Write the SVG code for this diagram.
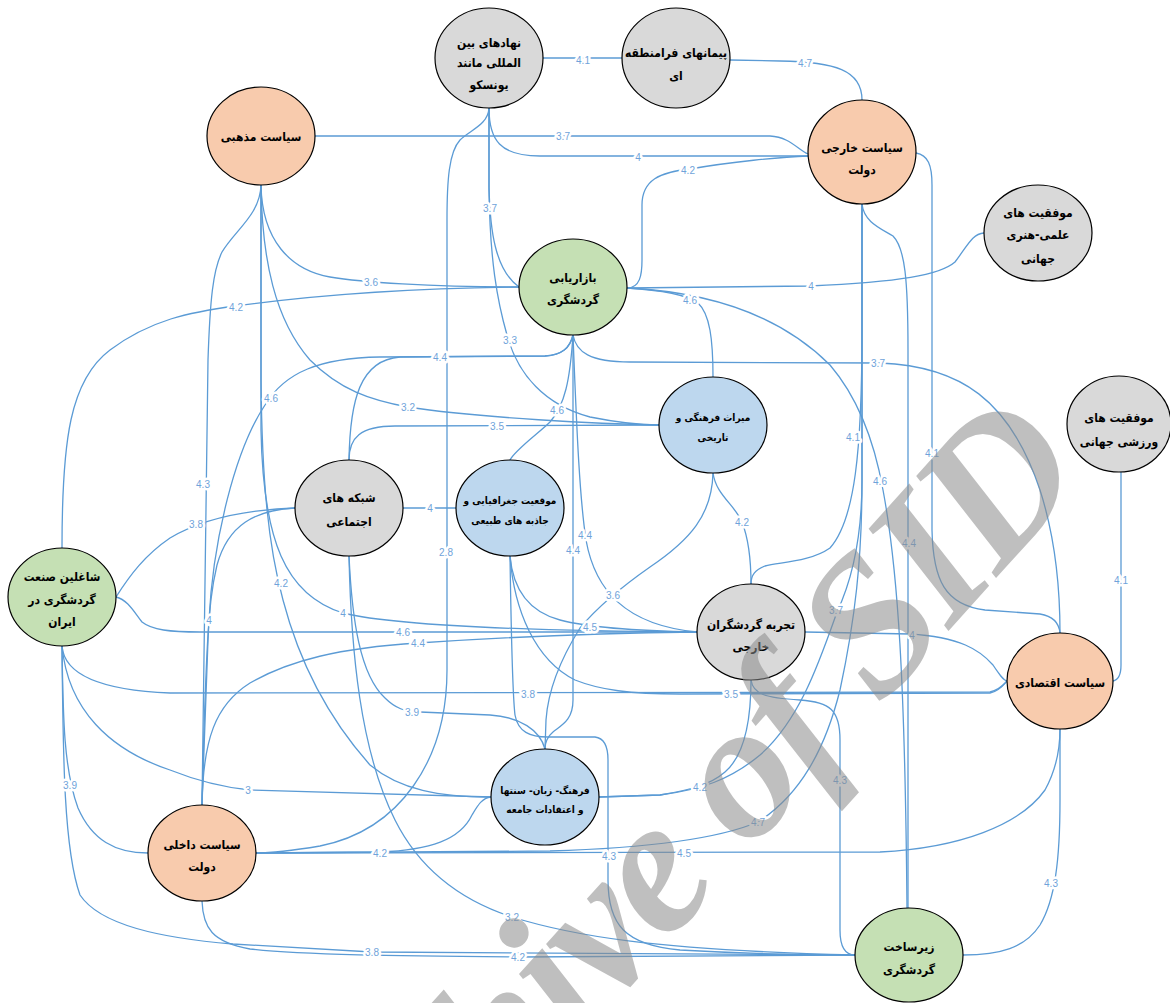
<svg xmlns="http://www.w3.org/2000/svg" width="1170" height="1003" viewBox="0 0 1170 1003">
<style>
.e{fill:none;stroke:#5B9BD5;stroke-width:1.3}
.l{font-family:"Liberation Sans",Arial,sans-serif;font-size:10px;fill:#6FA3DA;text-anchor:middle;dominant-baseline:central;stroke:#fff;stroke-width:5px;stroke-linejoin:round;paint-order:stroke}
.n{stroke:#000;stroke-width:1.2}
.g{fill:#D9D9D9}.o{fill:#F8CBAD}.gr{fill:#C5E0B4}.b{fill:#BDD7EE}
.t{font-family:"DejaVu Sans Condensed","DejaVu Sans",sans-serif;font-stretch:condensed;font-weight:bold;font-size:12px;fill:#000;text-anchor:middle;direction:rtl}
.s{font-size:10px}
.wm{font-family:"Liberation Serif",serif;font-style:italic;font-weight:bold;font-size:195px;letter-spacing:-5px;fill:#8C8C8C;opacity:0.55}
</style>
<rect width="1170" height="1003" fill="#fff"/>
<g id="connectors">
<path class="e" d="M543,58 H622"/>
<path class="e" d="M730,60 L780,61 C835,62 862,70 862,100"/>
<path class="e" d="M315,136 H770 C790,137 798,150 808,154"/>
<path class="e" d="M489,108 C489,140 500,156 540,156 H808"/>
<path class="e" d="M627,288 C640,288 642,275 642,260 V205 C642,180 660,172 690,169 C730,162 780,157 808,156"/>
<path class="e" d="M489,108 V187 C490,230 495,270 519,287"/>
<path class="e" d="M627,288 L810,286 C900,282 940,275 955,262 C968,245 972,234 984,233"/>
<path class="e" d="M261,185 C262,240 290,270 330,277 C360,282 430,287 519,287"/>
<path class="e" d="M62,548 C62,440 70,380 110,350 C150,320 190,312 236,306 C330,293 430,288 519,287"/>
<path class="e" d="M627,288 C660,290 685,294 698,303 C710,314 713,340 713,377"/>
<path class="e" d="M489,108 V190 C490,260 497,300 507,335 C518,375 545,405 590,417 C620,423 640,425 659,425"/>
<path class="e" d="M349,460 C350,400 360,360 400,357 L545,356 C562,355 570,348 573,335"/>
<path class="e" d="M573,335 C576,352 590,362 630,362 L880,363 C960,366 1010,400 1040,490 C1056,540 1060,590 1060,633"/>
<path class="e" d="M202,805 C204,720 206,660 209,620 C213,540 235,450 265,405 C285,372 320,358 380,357 L545,356 C562,355 570,348 573,335"/>
<path class="e" d="M261,185 C262,260 275,320 310,360 C340,390 370,400 408,407 C480,418 600,424 659,425"/>
<path class="e" d="M510,460 C515,450 540,432 550,422 C565,405 570,380 573,335"/>
<path class="e" d="M349,460 C349,438 360,426 395,426 L659,425"/>
<path class="e" d="M862,204 V330 C862,450 855,520 830,548 C810,562 780,562 765,566 C755,570 751,575 751,584"/>
<path class="e" d="M916,153 C928,155 932,165 932,185 V530 C933,580 945,605 985,610 L1040,614 C1052,616 1059,622 1060,633"/>
<path class="e" d="M627,288 C710,292 780,315 830,365 C860,400 875,445 883,490 C898,570 905,680 907,908"/>
<path class="e" d="M261,185 C260,215 235,230 222,252 C213,270 210,300 208,360 L202,805"/>
<path class="e" d="M713,473 C716,495 735,505 742,522 C749,540 751,560 751,584"/>
<path class="e" d="M116,597 C130,575 145,555 170,538 C200,520 240,510 295,508"/>
<path class="e" d="M403,508 H456"/>
<path class="e" d="M573,335 C577,440 580,500 586,540 C595,590 625,625 697,632"/>
<path class="e" d="M862,204 C864,222 880,228 893,236 C905,248 908,280 908,350 V908"/>
<path class="e" d="M489,108 C488,125 470,130 460,140 C449,152 447,180 447,220 V670 C447,760 400,830 320,846 C290,851 270,853 256,853"/>
<path class="e" d="M573,335 V700 C573,720 562,725 553,732 C547,737 545,742 545,749"/>
<path class="e" d="M261,185 V380 C262,480 268,545 283,600 C300,665 330,720 370,765 C400,790 440,797 491,797"/>
<path class="e" d="M1121,472 V665 C1121,676 1118,680 1113,681"/>
<path class="e" d="M713,473 C712,515 690,540 650,567 C620,588 595,610 580,628 C560,660 548,690 546,720 L545,749"/>
<path class="e" d="M862,204 V480 C862,540 852,580 837,612 C820,660 800,720 760,755 C730,780 700,790 660,795 L599,797"/>
<path class="e" d="M261,185 V430 C263,540 285,595 343,613 C400,627 550,631 697,632"/>
<path class="e" d="M295,508 C255,510 228,525 217,565 C211,590 209,610 208,640 C205,720 203,770 202,805"/>
<path class="e" d="M510,556 C513,590 530,612 560,620 C590,628 640,631 697,632"/>
<path class="e" d="M116,597 C128,600 134,612 142,622 C152,630 170,632 200,632 H697"/>
<path class="e" d="M805,632 L910,634 C960,637 980,650 993,665 C999,674 1003,680 1007,681"/>
<path class="e" d="M202,805 C203,740 215,705 250,683 C290,660 340,648 418,643 C520,636 620,633 697,632"/>
<path class="e" d="M62,646 C64,672 95,690 170,693 L990,692 C1000,690 1004,684 1007,681"/>
<path class="e" d="M510,556 C514,610 535,660 575,680 C600,690 630,694 680,694 L990,693 C1000,691 1004,684 1007,681"/>
<path class="e" d="M349,556 C352,620 360,675 385,698 C395,708 405,712 420,712 L490,715 C520,717 540,730 545,749"/>
<path class="e" d="M62,646 C68,710 110,750 170,770 C200,782 230,788 250,790 L491,797"/>
<path class="e" d="M62,646 C63,720 64,770 78,808 C92,840 115,853 148,853"/>
<path class="e" d="M751,680 C751,720 745,755 725,772 C710,785 690,790 660,795 L599,797"/>
<path class="e" d="M751,680 C753,694 765,698 800,700 C830,702 840,710 840,740 V930 C840,948 846,955 855,955"/>
<path class="e" d="M862,204 V480 C862,560 855,620 840,690 C825,750 800,795 758,822 C720,838 650,848 550,851 L256,853"/>
<path class="e" d="M491,797 C482,798 478,805 472,815 C460,840 430,850 380,852 L256,853"/>
<path class="e" d="M256,853 L880,852 C960,848 1020,825 1045,790 C1056,770 1060,750 1060,729"/>
<path class="e" d="M510,556 C511,620 512,690 515,715 C518,732 530,737 548,737 L595,737 C604,738 608,745 608,760 V880 C608,925 625,945 680,950 C750,954 800,955 855,955"/>
<path class="e" d="M1060,729 V800 C1060,860 1055,900 1040,925 C1025,948 1000,955 963,955"/>
<path class="e" d="M349,556 C351,650 360,750 395,820 C420,870 460,900 512,917 C570,935 650,950 855,955"/>
<path class="e" d="M62,646 C63,760 64,850 80,895 C100,925 160,938 233,944 L372,952 L855,955"/>
<path class="e" d="M202,901 C203,928 212,942 250,949 C300,955 400,956 518,957 L855,955"/>
</g>
<g id="edge-labels">
<text class="l" x="583" y="60">4.1</text>
<text class="l" x="805" y="63">4.7</text>
<text class="l" x="563" y="136">3.7</text>
<text class="l" x="638" y="157">4</text>
<text class="l" x="688" y="170">4.2</text>
<text class="l" x="490" y="208">3.7</text>
<text class="l" x="811" y="286">4</text>
<text class="l" x="371" y="282">3.6</text>
<text class="l" x="236" y="307">4.2</text>
<text class="l" x="690" y="300">4.6</text>
<text class="l" x="510" y="340">3.3</text>
<text class="l" x="440" y="357">4.4</text>
<text class="l" x="878" y="363">3.7</text>
<text class="l" x="271" y="398">4.6</text>
<text class="l" x="408" y="407">3.2</text>
<text class="l" x="557" y="410">4.6</text>
<text class="l" x="497" y="426">3.5</text>
<text class="l" x="853" y="437">4.1</text>
<text class="l" x="932" y="453">4.1</text>
<text class="l" x="880" y="481">4.6</text>
<text class="l" x="203" y="484">4.3</text>
<text class="l" x="742" y="522">4.2</text>
<text class="l" x="196" y="524">3.8</text>
<text class="l" x="430" y="508">4</text>
<text class="l" x="585" y="535">4.4</text>
<text class="l" x="909" y="543">4.4</text>
<text class="l" x="446" y="552">2.8</text>
<text class="l" x="573" y="550">4.4</text>
<text class="l" x="281" y="583">4.2</text>
<text class="l" x="1121" y="580">4.1</text>
<text class="l" x="613" y="595">3.6</text>
<text class="l" x="836" y="610">3.7</text>
<text class="l" x="343" y="613">4</text>
<text class="l" x="209" y="620">4</text>
<text class="l" x="590" y="627">4.5</text>
<text class="l" x="403" y="632">4.6</text>
<text class="l" x="912" y="635">4</text>
<text class="l" x="418" y="643">4.4</text>
<text class="l" x="528" y="694">3.8</text>
<text class="l" x="731" y="694">3.5</text>
<text class="l" x="412" y="712">3.9</text>
<text class="l" x="248" y="790">3</text>
<text class="l" x="70" y="785">3.9</text>
<text class="l" x="700" y="787">4.2</text>
<text class="l" x="840" y="780">4.3</text>
<text class="l" x="758" y="822">4.7</text>
<text class="l" x="380" y="853">4.2</text>
<text class="l" x="684" y="853">4.5</text>
<text class="l" x="609" y="856">4.3</text>
<text class="l" x="1051" y="883">4.3</text>
<text class="l" x="512" y="917">3.2</text>
<text class="l" x="372" y="952">3.8</text>
<text class="l" x="518" y="957">4.2</text>
</g>
<g id="n-unesco"><ellipse class="n g" cx="489" cy="58" rx="54" ry="50"/><text class="t"><tspan x="489" y="47">نهادهای بین</tspan><tspan x="489" y="67">المللی مانند</tspan><tspan x="489" y="89">یونسکو</tspan></text></g>
<g id="n-treaties"><ellipse class="n g" cx="676" cy="58" rx="54" ry="50"/><text class="t"><tspan x="676" y="57">پیمانهای فرامنطقه</tspan><tspan x="676" y="80">ای</tspan></text></g>
<g id="n-religious"><ellipse class="n o" cx="261" cy="136" rx="54" ry="49"/><text class="t" x="261" y="141">سیاست مذهبی</text></g>
<g id="n-foreign"><ellipse class="n o" cx="862" cy="152" rx="54" ry="52"/><text class="t"><tspan x="862" y="152">سیاست خارجی</tspan><tspan x="862" y="174">دولت</tspan></text></g>
<g id="n-science"><ellipse class="n g" cx="1038" cy="233" rx="54" ry="48"/><text class="t"><tspan x="1038" y="217">موفقیت های</tspan><tspan x="1038" y="239">علمی-هنری</tspan><tspan x="1038" y="263">جهانی</tspan></text></g>
<g id="n-marketing"><ellipse class="n gr" cx="573" cy="287" rx="54" ry="48"/><text class="t"><tspan x="573" y="282">بازاریابی</tspan><tspan x="573" y="304">گردشگری</tspan></text></g>
<g id="n-heritage"><ellipse class="n b" cx="713" cy="425" rx="54" ry="48"/><text class="t s"><tspan x="713" y="421">میراث فرهنگی و</tspan><tspan x="713" y="441">تاریخی</tspan></text></g>
<g id="n-sport"><ellipse class="n g" cx="1119" cy="424" rx="52" ry="48"/><text class="t"><tspan x="1119" y="422">موفقیت های</tspan><tspan x="1119" y="446">ورزشی جهانی</tspan></text></g>
<g id="n-social"><ellipse class="n g" cx="349" cy="508" rx="54" ry="48"/><text class="t"><tspan x="349" y="502">شبکه های</tspan><tspan x="349" y="526">اجتماعی</tspan></text></g>
<g id="n-geo"><ellipse class="n b" cx="510" cy="508" rx="54" ry="48"/><text class="t s"><tspan x="510" y="504">موقعیت جغرافیایی و</tspan><tspan x="510" y="524">جاذبه های طبیعی</tspan></text></g>
<g id="n-workers"><ellipse class="n gr" cx="62" cy="597" rx="54" ry="49"/><text class="t"><tspan x="62" y="581">شاغلین صنعت</tspan><tspan x="62" y="604">گردشگری در</tspan><tspan x="62" y="626">ایران</tspan></text></g>
<g id="n-experience"><ellipse class="n g" cx="751" cy="632" rx="54" ry="48"/><text class="t"><tspan x="751" y="629">تجربه گردشگران</tspan><tspan x="751" y="651">خارجی</tspan></text></g>
<g id="n-economic"><ellipse class="n o" cx="1060" cy="681" rx="53" ry="48"/><text class="t" x="1060" y="687">سیاست اقتصادی</text></g>
<g id="n-culture"><ellipse class="n b" cx="545" cy="797" rx="54" ry="48"/><text class="t s"><tspan x="545" y="794">فرهنگ- زبان- سنتها</tspan><tspan x="545" y="813">و اعتقادات جامعه</tspan></text></g>
<g id="n-domestic"><ellipse class="n o" cx="202" cy="853" rx="54" ry="48"/><text class="t"><tspan x="202" y="849">سیاست داخلی</tspan><tspan x="202" y="871">دولت</tspan></text></g>
<g id="n-infra"><ellipse class="n gr" cx="909" cy="955" rx="54" ry="47"/><text class="t"><tspan x="909" y="951">زیرساخت</tspan><tspan x="909" y="974">گردشگری</tspan></text></g>
<text class="wm" transform="translate(1088,476) rotate(-48)" text-anchor="end">Archive of SID</text>
</svg>
